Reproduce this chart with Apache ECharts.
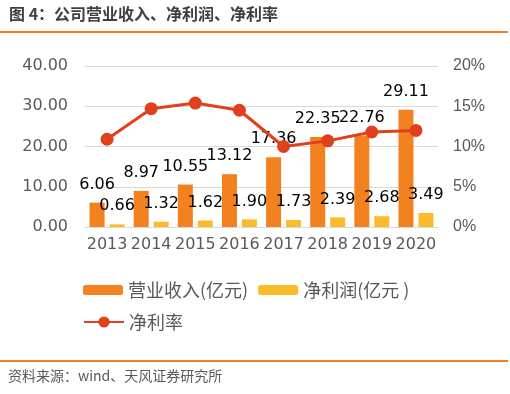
<!DOCTYPE html>
<html>
<head>
<meta charset="utf-8">
<script src="https://cdn.jsdelivr.net/npm/echarts@6/dist/echarts.min.js"></script>
<style>
html,body{margin:0;padding:0;background:#fff;}
#chart{width:510px;height:394px;}
</style>
</head>
<body>
<div id="chart"></div>
<script>
const years = ['2013','2014','2015','2016','2017','2018','2019','2020'];
const revenue = [6.06, 8.97, 10.55, 13.12, 17.36, 22.35, 22.76, 29.11];
const netProfit = [0.66, 1.32, 1.62, 1.90, 1.73, 2.39, 2.68, 3.49];
const netMargin = [10.9, 14.7, 15.4, 14.5, 10.0, 10.7, 11.8, 12.0];
const leftTicks = [0, 10, 20, 30, 40];
const rightTicks = [0, 5, 10, 15, 20];
const titleText = '图 4：公司营业收入、净利润、净利率';
const sourceText = '资料来源：wind、天风证券研究所';
const names = ['营业收入(亿元)', '净利润(亿元 )', '净利率'];

const chart = echarts.init(document.getElementById('chart'), null, {renderer: 'canvas'});
const numFont = 'DejaVu Sans';
const cjkFont = '"Noto Sans CJK SC", "DejaVu Sans", sans-serif';
const axisColor = '#595959';

const option = {
  animation: false,
  backgroundColor: '#ffffff',
  graphic: [
    {type: 'text', left: 9, top: 6, style: {text: titleText, font: 'bold 16px "Noto Sans CJK SC", sans-serif', fill: '#3f3f3f'}},
    {type: 'rect', shape: {x: 0, y: 31, width: 508, height: 2}, style: {fill: '#F07F22'}},
    {type: 'rect', shape: {x: 0, y: 360, width: 508, height: 2}, style: {fill: '#F07F22'}},
    {type: 'text', left: 8, top: 369, style: {text: sourceText, font: '14px "Noto Sans CJK SC", sans-serif', fill: '#595959'}}
  ],
  legend: [
    {
      data: [names[0], names[1]],
      left: 83, top: 281, padding: 0,
      itemWidth: 40, itemHeight: 10, itemGap: 10,
      textStyle: {fontFamily: cjkFont, fontSize: 18, color: axisColor}
    },
    {
      data: [names[2]],
      left: 83, top: 313, padding: 0,
      itemWidth: 40, itemHeight: 14,
      textStyle: {fontFamily: cjkFont, fontSize: 18, color: axisColor}
    }
  ],
  grid: {left: 85, right: 72, top: 66, bottom: 167, containLabel: false},
  xAxis: {
    type: 'category',
    data: years,
    axisLine: {lineStyle: {color: '#d9d9d9'}},
    axisTick: {show: false},
    axisLabel: {fontFamily: numFont, fontSize: 16, color: axisColor, margin: 10, interval: 0}
  },
  yAxis: [
    {
      type: 'value', min: leftTicks[0], max: leftTicks[leftTicks.length - 1], interval: 10,
      axisLine: {show: false}, axisTick: {show: false},
      splitLine: {lineStyle: {color: '#d9d9d9', width: 1}},
      axisLabel: {fontFamily: numFont, fontSize: 16, color: axisColor, margin: 17, formatter: v => v.toFixed(2)}
    },
    {
      type: 'value', min: rightTicks[0], max: rightTicks[rightTicks.length - 1], interval: 5,
      axisLine: {show: false}, axisTick: {show: false},
      splitLine: {show: false},
      axisLabel: {fontFamily: '"Liberation Sans Narrow", "Liberation Sans", sans-serif', fontSize: 16, color: axisColor, margin: 15, formatter: v => v + '%'}
    }
  ],
  series: [
    {
      name: names[0], type: 'bar', data: revenue, yAxisIndex: 0,
      barWidth: 15, barGap: '33%',
      itemStyle: {color: '#F4811F'},
      label: {show: true, position: 'top', distance: 10, fontFamily: numFont, fontSize: 16, color: '#000', formatter: p => p.value.toFixed(2)}
    },
    {
      name: names[1], type: 'bar', data: netProfit, yAxisIndex: 0,
      barWidth: 15, barGap: '33%',
      itemStyle: {color: '#FBBC2C'},
      label: {show: true, position: 'top', distance: 10, fontFamily: numFont, fontSize: 16, color: '#000', formatter: p => p.value.toFixed(2)}
    },
    {
      name: names[2], type: 'line', data: netMargin, yAxisIndex: 1,
      symbol: 'circle', symbolSize: 13,
      lineStyle: {color: '#E0401E', width: 3},
      itemStyle: {color: '#E0401E'},
      z: 3
    }
  ]
};
chart.setOption(option);
</script>
</body>
</html>
